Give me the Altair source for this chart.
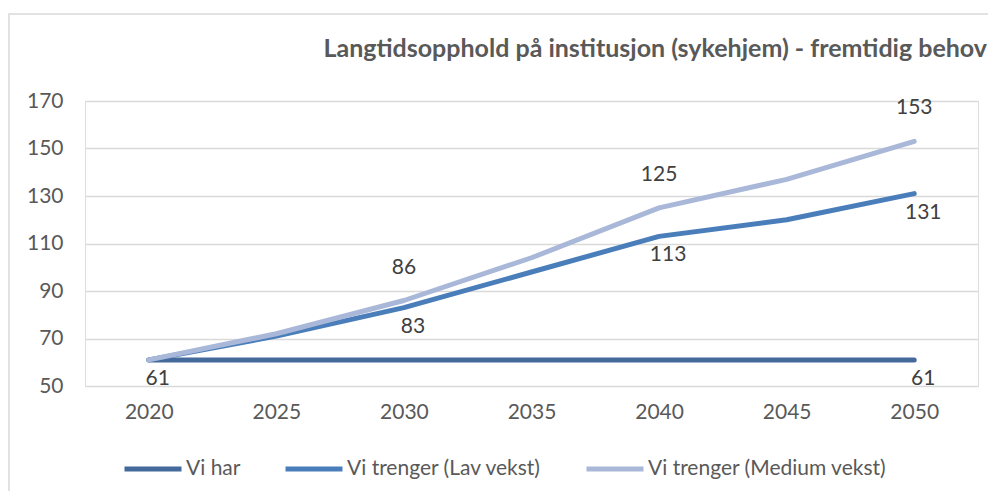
import altair as alt
import pandas as pd

years = ["2020", "2025", "2030", "2035", "2040", "2045", "2050"]
series_names = ["Vi har", "Vi trenger (Lav vekst)", "Vi trenger (Medium vekst)"]
vi_har = [61, 61, 61, 61, 61, 61, 61]
lav_vekst = [61, 71, 83, 98, 113, 120, 131]
medium_vekst = [61, 72, 86, 104, 125, 137, 153]
colors = ["#44699B", "#4A7EBB", "#A9B8D8"]

# which points carry a data label, and on which side of the line
labels_below = [("Vi har", "2020"), ("Vi har", "2050"),
                ("Vi trenger (Lav vekst)", "2030"), ("Vi trenger (Lav vekst)", "2040"),
                ("Vi trenger (Lav vekst)", "2050")]
labels_above = [("Vi trenger (Medium vekst)", "2030"), ("Vi trenger (Medium vekst)", "2040"),
                ("Vi trenger (Medium vekst)", "2050")]

rows = []
for name, vals in zip(series_names, [vi_har, lav_vekst, medium_vekst]):
    for y, v in zip(years, vals):
        side = "below" if (name, y) in labels_below else ("above" if (name, y) in labels_above else "none")
        rows.append({"År": y, "Serie": name, "Verdi": v, "side": side})
df = pd.DataFrame(rows)

FONT = "Lato"

x = alt.X("År:O", sort=years, scale=alt.Scale(type="point", padding=0.5),
          axis=alt.Axis(title=None, labelAngle=0, labelFontSize=21, labelColor="#595959",
                        labelFont=FONT, labelPadding=15, ticks=False, domain=False, grid=False))
y = alt.Y("Verdi:Q", scale=alt.Scale(domain=[50, 170], nice=False),
          axis=alt.Axis(title=None, values=[50, 70, 90, 110, 130, 150, 170], labelFontSize=21,
                        labelColor="#595959", labelFont=FONT, labelPadding=22, ticks=False,
                        domain=False, gridColor="#D9D9D9", gridWidth=1.3))

border = alt.Chart(pd.DataFrame({"a": [0]})).mark_rect(
    fill=None, stroke="#D9D9D9", strokeWidth=1.5
).encode(x=alt.value(-76), x2=alt.value(1100), y=alt.value(-87), y2=alt.value(600))

lines = alt.Chart(df).mark_line(strokeWidth=5, strokeCap="round", strokeJoin="round").encode(
    x=x, y=y,
    color=alt.Color("Serie:N", sort=series_names,
                    scale=alt.Scale(domain=series_names, range=colors),
                    legend=alt.Legend(title=None, orient="none", direction="horizontal",
                                      legendX=37, legendY=337, symbolType="stroke",
                                      symbolStrokeWidth=5, symbolSize=3249,
                                      labelFontSize=21, labelFont=FONT, labelColor="#595959",
                                      labelOffset=2, columnPadding=34, labelLimit=400)),
    order=alt.Order("Serie:N"),
)

below = alt.Chart(df).transform_filter(alt.datum.side == "below").mark_text(
    fontSize=21, font=FONT, color="#404040", dy=19, dx=9, baseline="middle"
).encode(x=x, y=y, text="Verdi:Q")

above = alt.Chart(df).transform_filter(alt.datum.side == "above").mark_text(
    fontSize=21, font=FONT, color="#404040", dy=-33, baseline="middle"
).encode(x=x, y=y, text="Verdi:Q")

chart = alt.layer(border, lines, below, above).properties(
    width=893, height=285,
    padding={"left": 77, "top": 93, "right": 10, "bottom": 105},
    autosize=alt.AutoSizeParams(type="none"),
    title=alt.TitleParams("Langtidsopphold på institusjon (sykehjem) - fremtidig behov",
                          anchor="end", frame="group", fontSize=25, font=FONT,
                          fontWeight="bold", color="#595959", offset=-49, dx=9),
).configure_view(stroke=None).configure(background="white")

chart.save("out.html", embed_options={"renderer": "svg", "actions": False})
